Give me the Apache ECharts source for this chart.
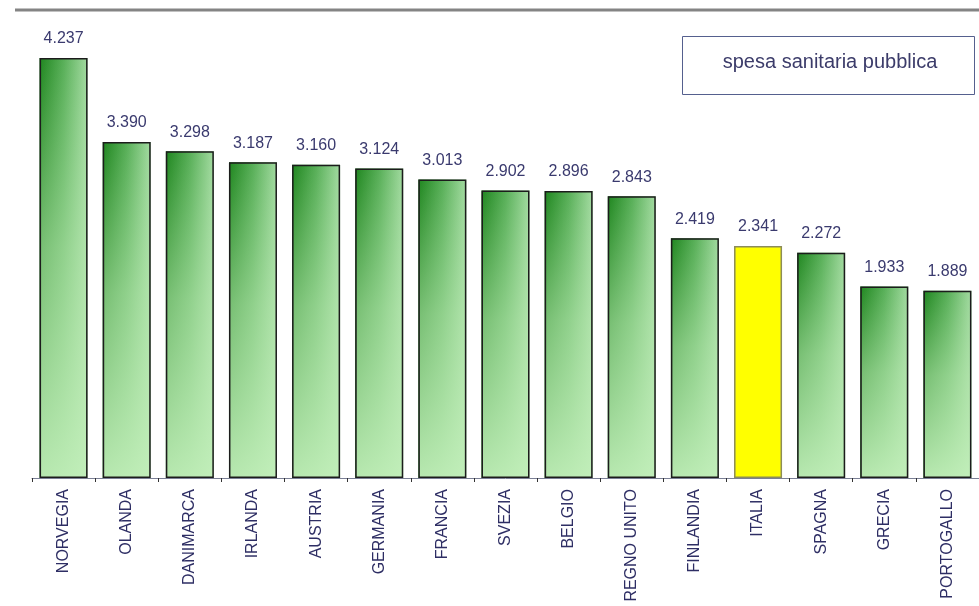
<!DOCTYPE html>
<html>
<head>
<meta charset="utf-8">
<style>
  html, body { margin: 0; padding: 0; background: #ffffff; }
  #chart { width: 979px; height: 606px; }
</style>
<script src="https://cdn.jsdelivr.net/npm/echarts@6/dist/echarts.min.js"></script>
</head>
<body>
<div id="chart"></div>
<script>
// Spesa sanitaria pubblica pro capite per paese
const countries = ['NORVEGIA', 'OLANDA', 'DANIMARCA', 'IRLANDA', 'AUSTRIA', 'GERMANIA', 'FRANCIA',
  'SVEZIA', 'BELGIO', 'REGNO UNITO', 'FINLANDIA', 'ITALIA', 'SPAGNA', 'GRECIA', 'PORTOGALLO'];
const spesa = [4237, 3390, 3298, 3187, 3160, 3124, 3013, 2902, 2896, 2843, 2419, 2341, 2272, 1933, 1889];
const highlighted = 'ITALIA';
const legendText = 'spesa sanitaria pubblica';

// thousands separator in Italian style: 4237 -> "4.237"
function fmt(v) {
  return String(v).replace(/\B(?=(\d{3})+(?!\d))/g, '.');
}

const baseGradient = {
  type: 'linear', x: 0, y: 0, x2: 1, y2: 0,
  colorStops: [
    { offset: 0, color: '#1f861f' },
    { offset: 0.5, color: '#58af58' },
    { offset: 1, color: '#a2daa0' }
  ]
};
const fadeGradient = {
  type: 'linear', x: 0, y: 0, x2: 0, y2: 1,
  colorStops: [
    { offset: 0, color: 'rgba(190,236,182,0)' },
    { offset: 0.45, color: 'rgba(190,236,182,0.55)' },
    { offset: 1, color: 'rgba(196,240,188,0.92)' }
  ]
};

const baseData = spesa.map((v, i) => countries[i] === highlighted
  ? { value: v, itemStyle: { color: '#ffff00' } }
  : { value: v });
const topData = spesa.map((v, i) => countries[i] === highlighted
  ? { value: v, itemStyle: { color: 'rgba(0,0,0,0)', borderColor: '#8c8c5a' } }
  : { value: v });

const chart = echarts.init(document.getElementById('chart'), null, { renderer: 'canvas' });
chart.setOption({
  backgroundColor: '#ffffff',
  animation: false,
  textStyle: { fontFamily: 'Liberation Sans, Arial, sans-serif' },
  grid: { left: 32, top: 32, width: 957, bottom: 128, containLabel: false },
  xAxis: {
    type: 'category',
    data: countries,
    boundaryGap: true,
    axisLine: { lineStyle: { color: '#7a7f95', width: 1 } },
    axisTick: { show: true, interval: 0, length: 4, lineStyle: { color: '#333333' } },
    axisLabel: { interval: 0, rotate: 90, margin: 11, color: '#2e2e64', fontSize: 16 }
  },
  yAxis: {
    type: 'value', min: 0, max: 4500, show: false,
    splitLine: { show: false }
  },
  series: [
    {
      type: 'bar',
      data: baseData,
      barWidth: 48,
      itemStyle: { color: baseGradient },
      silent: true,
      z: 2
    },
    {
      type: 'bar',
      data: topData,
      barWidth: 48,
      barGap: '-100%',
      itemStyle: { color: fadeGradient, borderColor: '#1c1c1c', borderWidth: 1.5 },
      label: {
        show: true, position: 'top', distance: 11,
        color: '#3a3a6e', fontSize: 16,
        formatter: p => fmt(p.value)
      },
      z: 3
    }
  ],
  graphic: [
    {
      type: 'rect',
      shape: { x: 15, y: 8.5, width: 964, height: 3 },
      style: { fill: '#848484' },
      silent: true
    },
    {
      type: 'rect',
      shape: { x: 682.5, y: 36.5, width: 292, height: 58 },
      style: { fill: '#ffffff', stroke: '#55608e', lineWidth: 1 },
      silent: true
    },
    {
      type: 'text',
      x: 830, y: 62,
      style: {
        text: legendText, fill: '#3c3c6a', fontSize: 20,
        fontFamily: 'Liberation Sans, Arial, sans-serif',
        align: 'center', verticalAlign: 'middle'
      },
      silent: true
    }
  ]
});
</script>
</body>
</html>
